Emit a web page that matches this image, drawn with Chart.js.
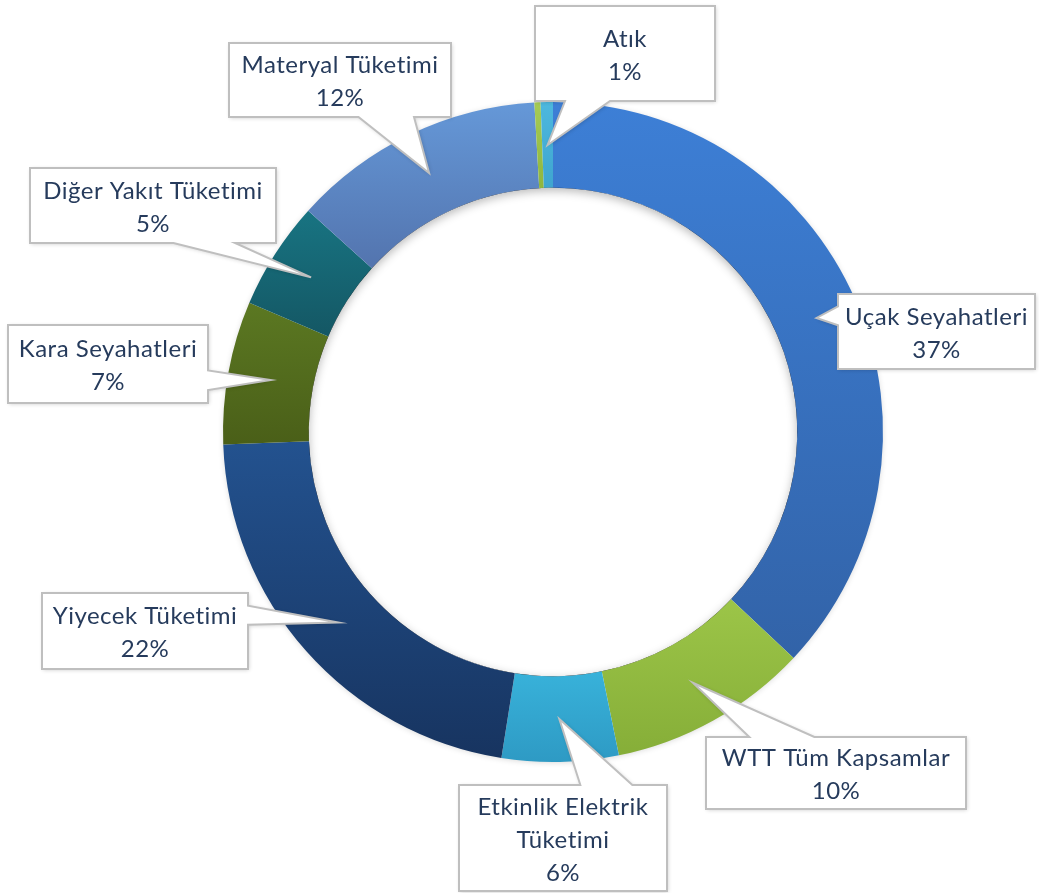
<!DOCTYPE html>
<html>
<head>
<meta charset="utf-8">
<script src="https://cdn.jsdelivr.net/npm/chart.js@4"></script>
<style>
    html, body { margin: 0; padding: 0; background: #fff; }
    #wrap { width: 1039px; height: 893px; position: relative; }
</style>
</head>
<body>
<div id="wrap"><canvas id="emisyonChart"></canvas></div>
<script>
// Emisyon dağılımı (%)
const kategoriler = [
    'Uçak Seyahatleri',
    'WTT Tüm Kapsamlar',
    'Etkinlik Elektrik Tüketimi',
    'Yiyecek Tüketimi',
    'Kara Seyahatleri',
    'Diğer Yakıt Tüketimi',
    'Materyal Tüketimi',
    '',
    'Atık'
];
const paylar = [37.0, 9.8, 5.7, 21.9, 7.0, 5.3, 12.4, 0.3, 0.6];

// renkler: dilimin üstü / altı
const renkUst = ['#3d7fd6', '#9cc548', '#38b2da', '#23528f', '#5b7822', '#187482', '#6598d8', '#a6cb55', '#4db8de'];
const renkAlt = ['#3263a8', '#86ae38', '#2e9ac4', '#173460', '#4a5f18', '#145764', '#5374ae', '#8fb63e', '#3fa5cf'];

// etiket kutularının yerleşimi
const kutular = [
    { x: 838, y: 294, w: 197, h: 75 },
    { x: 706, y: 737, w: 260, h: 72 },
    { x: 459, y: 785, w: 208, h: 106, sag: true },
    { x: 42, y: 593, w: 206, h: 76 },
    { x: 8, y: 325, w: 200, h: 78 },
    { x: 30, y: 168, w: 246, h: 75 },
    { x: 229, y: 43, w: 222, h: 74 },
    null,
    { x: 535, y: 6, w: 180, h: 95 }
];

const yaziFont = '24px Lato, "Open Sans", sans-serif';
const yaziRenk = '#263b5c';

// her dilime dikey gradyan
const gradyanPlugin = {
    id: 'gradyan',
    beforeDatasetsDraw(chart) {
        const ctx = chart.ctx;
        chart.getDatasetMeta(0).data.forEach((arc, i) => {
            const p = arc.getProps(['x', 'y', 'startAngle', 'endAngle', 'innerRadius', 'outerRadius'], true);
            let minY = Infinity, maxY = -Infinity;
            const n = 40;
            for (let k = 0; k <= n; k++) {
                const a = p.startAngle + (p.endAngle - p.startAngle) * k / n;
                [p.innerRadius, p.outerRadius].forEach(r => {
                    const yy = p.y + r * Math.sin(a);
                    minY = Math.min(minY, yy);
                    maxY = Math.max(maxY, yy);
                });
            }
            if (maxY - minY < 1) maxY = minY + 1;
            const g = ctx.createLinearGradient(0, minY, 0, maxY);
            g.addColorStop(0, renkUst[i]);
            g.addColorStop(1, renkAlt[i]);
            if (!Object.isFrozen(arc.options)) arc.options.backgroundColor = g;
        });

        // halkanın dış gölgesi
        const a0 = chart.getDatasetMeta(0).data[0];
        if (!a0) return;
        const { x, y, outerRadius } = a0.getProps(['x', 'y', 'outerRadius'], true);
        ctx.save();
        ctx.beginPath();
        ctx.arc(x, y, outerRadius - 1, 0, Math.PI * 2);
        ctx.fillStyle = '#fff';
        ctx.shadowColor = 'rgba(0,0,0,0.18)';
        ctx.shadowBlur = 6;
        ctx.shadowOffsetY = 1;
        ctx.fill();
        ctx.restore();
    }
};

function satirlaraBol(ctx, metin, maxW) {
    const kelimeler = metin.split(' ');
    const satirlar = [];
    let satir = '';
    kelimeler.forEach(k => {
        const dene = satir ? satir + ' ' + k : k;
        if (satir && ctx.measureText(dene).width > maxW) {
            satirlar.push(satir);
            satir = k;
        } else {
            satir = dene;
        }
    });
    if (satir) satirlar.push(satir);
    return satirlar;
}

// kutu + sivri uç (wedgeRectCallout benzeri)
function kutuYolu(ctx, b, tip) {
    const l = b.x, t = b.y, r = b.x + b.w, bt = b.y + b.h;
    const dx = tip.x - (l + b.w / 2), dy = tip.y - (t + b.h / 2);
    const dz = Math.abs(dy) - Math.abs(dx * b.h / b.w);
    const sagda = b.sag !== undefined ? b.sag : dx > 0;
    const x1 = l + b.w * (sagda ? 7 : 2) / 12, x2 = l + b.w * (sagda ? 10 : 5) / 12;
    const y1 = t + b.h * (dy > 0 ? 7 : 2) / 12, y2 = t + b.h * (dy > 0 ? 10 : 5) / 12;
    ctx.beginPath();
    ctx.moveTo(l, t);
    if (dz > 0 && dy < 0) { ctx.lineTo(x1, t); ctx.lineTo(tip.x, tip.y); ctx.lineTo(x2, t); }
    ctx.lineTo(r, t);
    if (dz <= 0 && dx > 0) { ctx.lineTo(r, y1); ctx.lineTo(tip.x, tip.y); ctx.lineTo(r, y2); }
    ctx.lineTo(r, bt);
    if (dz > 0 && dy > 0) { ctx.lineTo(x2, bt); ctx.lineTo(tip.x, tip.y); ctx.lineTo(x1, bt); }
    ctx.lineTo(l, bt);
    if (dz <= 0 && dx < 0) { ctx.lineTo(l, y2); ctx.lineTo(tip.x, tip.y); ctx.lineTo(l, y1); }
    ctx.closePath();
}

const etiketPlugin = {
    id: 'etiketler',
    afterDatasetsDraw(chart) {
        const ctx = chart.ctx;
        const arcs = chart.getDatasetMeta(0).data;
        if (!arcs.length) return;

        // iç gölge
        const { x, y, innerRadius } = arcs[0].getProps(['x', 'y', 'innerRadius'], true);
        ctx.save();
        ctx.beginPath();
        ctx.arc(x, y, innerRadius, 0, Math.PI * 2);
        ctx.clip();
        ctx.beginPath();
        ctx.arc(x, y, innerRadius + 30, 0, Math.PI * 2);
        ctx.lineWidth = 60;
        ctx.strokeStyle = '#000';
        ctx.shadowColor = 'rgba(0,0,0,0.28)';
        ctx.shadowBlur = 10;
        ctx.shadowOffsetY = 3;
        ctx.stroke();
        ctx.restore();

        const toplam = paylar.reduce((s, v) => s + v, 0);
        arcs.forEach((arc, i) => {
            const b = kutular[i];
            if (!b) return;
            const tip = arc.getCenterPoint(true);

            ctx.save();
            kutuYolu(ctx, b, tip);
            ctx.fillStyle = '#fff';
            ctx.shadowColor = 'rgba(0,0,0,0.2)';
            ctx.shadowBlur = 4;
            ctx.shadowOffsetX = 1;
            ctx.shadowOffsetY = 1;
            ctx.fill();
            ctx.shadowColor = 'transparent';
            ctx.lineWidth = 2;
            ctx.strokeStyle = '#bfbfbf';
            ctx.lineJoin = 'miter';
            ctx.stroke();

            ctx.font = yaziFont;
            ctx.letterSpacing = '0.5px';
            ctx.fillStyle = yaziRenk;
            ctx.textAlign = 'center';
            ctx.textBaseline = 'middle';
            const satirlar = satirlaraBol(ctx, kategoriler[i], b.w - 10);
            satirlar.push(Math.round(paylar[i] / toplam * 100) + '%');
            const satirY = 33;
            const cx = b.x + b.w / 2;
            const y0 = b.y + b.h / 2 - (satirlar.length - 1) * satirY / 2 + 2;
            satirlar.forEach((s, k) => ctx.fillText(s, cx, y0 + k * satirY));
            ctx.restore();
        });
    }
};

document.addEventListener('DOMContentLoaded', () => {
    const ctx = document.getElementById('emisyonChart');
    new Chart(ctx, {
        type: 'doughnut',
        data: {
            labels: kategoriler,
            datasets: [{
                data: paylar,
                backgroundColor: renkUst,
                borderWidth: 0,
                hoverOffset: 0
            }]
        },
        options: {
            responsive: true,
            maintainAspectRatio: false,
            animation: false,
            cutout: '74%',
            layout: { padding: { left: 223, right: 156, top: 102, bottom: 131 } },
            plugins: {
                legend: { display: false },
                tooltip: { enabled: false }
            }
        },
        plugins: [gradyanPlugin, etiketPlugin]
    });
});
</script>
</body>
</html>
